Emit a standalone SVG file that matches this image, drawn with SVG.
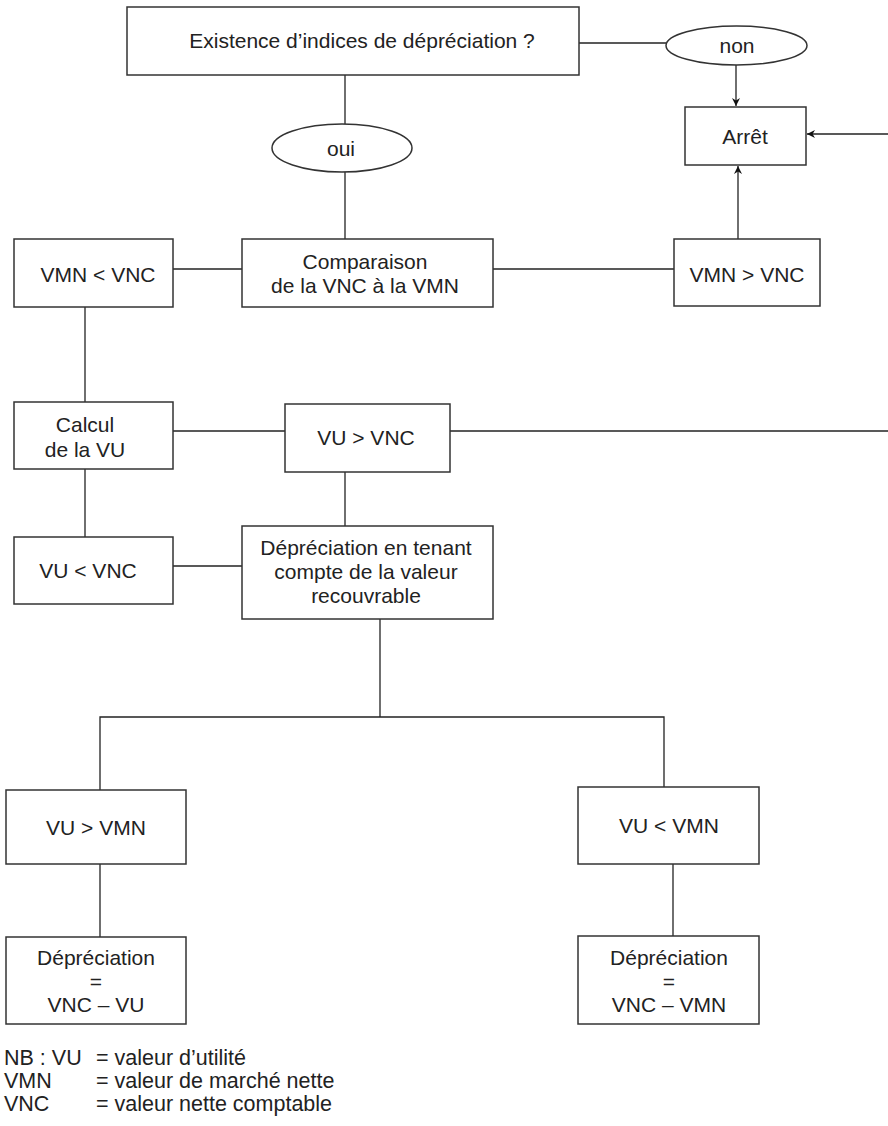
<svg xmlns="http://www.w3.org/2000/svg" width="888" height="1126" viewBox="0 0 888 1126">
<style>
  .box { fill: #ffffff; stroke: #333333; stroke-width: 1.5; }
  .t { font-family: "Liberation Sans", Arial, Helvetica, sans-serif; font-size: 21px; fill: #222222; text-anchor: middle; }
  .n { font-family: "Liberation Sans", Arial, Helvetica, sans-serif; font-size: 21.5px; fill: #222222; }
  .c { fill: none; stroke: #222222; stroke-width: 1.3; }
</style>
<defs>
  <marker id="arr" viewBox="0 0 10 10" refX="10" refY="5" markerWidth="8" markerHeight="8" orient="auto" markerUnits="userSpaceOnUse">
    <path d="M0,0 L10,5 L0,10 L3,5 Z" fill="#111111"/>
  </marker>
</defs>
<rect width="888" height="1126" fill="#ffffff"/>

<g id="connectors">
  <line class="c" x1="579" y1="43" x2="666" y2="43"/>
  <line class="c" x1="736" y1="65" x2="736" y2="106" marker-end="url(#arr)"/>
  <line class="c" x1="888" y1="134" x2="807" y2="134" marker-end="url(#arr)"/>
  <line class="c" x1="738" y1="239" x2="738" y2="166" marker-end="url(#arr)"/>
  <line class="c" x1="345" y1="75" x2="345" y2="124"/>
  <line class="c" x1="345" y1="172" x2="345" y2="239"/>
  <line class="c" x1="173" y1="269" x2="242" y2="269"/>
  <line class="c" x1="493" y1="269" x2="674" y2="269"/>
  <line class="c" x1="85" y1="307" x2="85" y2="402"/>
  <line class="c" x1="173" y1="431" x2="285" y2="431"/>
  <line class="c" x1="450" y1="431" x2="888" y2="431"/>
  <line class="c" x1="85" y1="469" x2="85" y2="537"/>
  <line class="c" x1="345" y1="472" x2="345" y2="526"/>
  <line class="c" x1="173" y1="566" x2="242" y2="566"/>
  <line class="c" x1="380" y1="619" x2="380" y2="717"/>
  <polyline class="c" points="100,790 100,717 664,717 664,787"/>
  <line class="c" x1="100" y1="864" x2="100" y2="937"/>
  <line class="c" x1="673" y1="864" x2="673" y2="936"/>
</g>

<g id="q">
  <rect class="box" x="127" y="7" width="452" height="68"/>
  <text class="t" x="362" y="48">Existence d’indices de dépréciation ?</text>
</g>
<g id="non">
  <ellipse class="box" cx="736.5" cy="45.5" rx="70.5" ry="19.5"/>
  <text class="t" x="737" y="53">non</text>
</g>
<g id="arret">
  <rect class="box" x="685" y="107" width="121" height="58"/>
  <text class="t" x="745" y="144">Arrêt</text>
</g>
<g id="oui">
  <ellipse class="box" cx="342" cy="148" rx="70" ry="24"/>
  <text class="t" x="341" y="156">oui</text>
</g>
<g id="comparaison">
  <rect class="box" x="242" y="239" width="251" height="68"/>
  <text class="t" x="365" y="269">Comparaison</text>
  <text class="t" x="365" y="293">de la VNC à la VMN</text>
</g>
<g id="vmn-lt-vnc">
  <rect class="box" x="14" y="239" width="159" height="68"/>
  <text class="t" x="98" y="282">VMN &lt; VNC</text>
</g>
<g id="vmn-gt-vnc">
  <rect class="box" x="674" y="239" width="146" height="67"/>
  <text class="t" x="747" y="282">VMN &gt; VNC</text>
</g>
<g id="calcul">
  <rect class="box" x="14" y="402" width="159" height="67"/>
  <text class="t" x="85" y="432">Calcul</text>
  <text class="t" x="85" y="457">de la VU</text>
</g>
<g id="vu-gt-vnc">
  <rect class="box" x="285" y="404" width="165" height="68"/>
  <text class="t" x="366" y="445">VU &gt; VNC</text>
</g>
<g id="vu-lt-vnc">
  <rect class="box" x="14" y="537" width="159" height="67"/>
  <text class="t" x="88" y="578">VU &lt; VNC</text>
</g>
<g id="depreciation">
  <rect class="box" x="242" y="526" width="251" height="93"/>
  <text class="t" x="366" y="555">Dépréciation en tenant</text>
  <text class="t" x="366" y="579">compte de la valeur</text>
  <text class="t" x="366" y="603">recouvrable</text>
</g>
<g id="vu-gt-vmn">
  <rect class="box" x="6" y="790" width="180" height="74"/>
  <text class="t" x="96" y="835">VU &gt; VMN</text>
</g>
<g id="vu-lt-vmn">
  <rect class="box" x="578" y="787" width="181" height="77"/>
  <text class="t" x="669" y="833">VU &lt; VMN</text>
</g>
<g id="dep-left">
  <rect class="box" x="6" y="937" width="180" height="87"/>
  <text class="t" x="96" y="965">Dépréciation</text>
  <text class="t" x="96" y="989">=</text>
  <text class="t" x="96" y="1012">VNC – VU</text>
</g>
<g id="dep-right">
  <rect class="box" x="578" y="936" width="181" height="88"/>
  <text class="t" x="669" y="965">Dépréciation</text>
  <text class="t" x="669" y="989">=</text>
  <text class="t" x="669" y="1012">VNC – VMN</text>
</g>

<g id="notes">
  <text class="n" x="4" y="1065">NB : VU</text>
  <text class="n" x="96" y="1065">= valeur d’utilité</text>
  <text class="n" x="4" y="1088">VMN</text>
  <text class="n" x="96" y="1088">= valeur de marché nette</text>
  <text class="n" x="4" y="1111">VNC</text>
  <text class="n" x="96" y="1111">= valeur nette comptable</text>
</g>
</svg>
